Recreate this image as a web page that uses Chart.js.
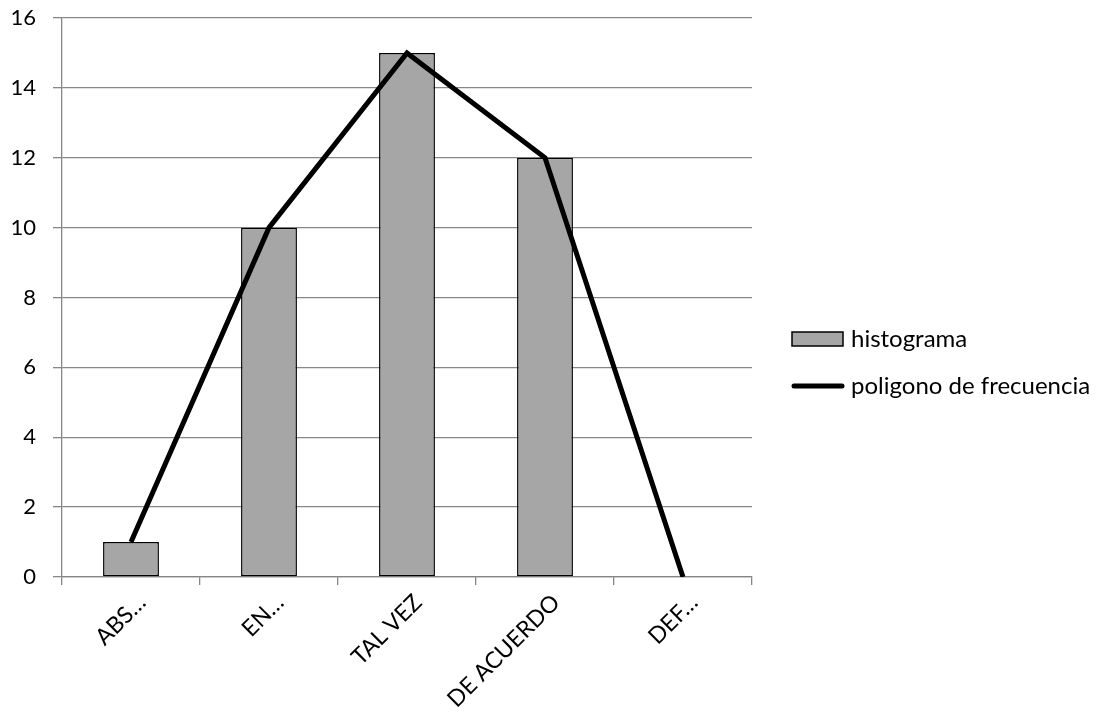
<!DOCTYPE html>
<html>
<head>
<meta charset="utf-8">
<script src="https://cdn.jsdelivr.net/npm/chart.js@4/dist/chart.umd.min.js"></script>
<style>
  html, body { margin: 0; padding: 0; background: #fff; }
  #wrap { width: 1104px; height: 713px; }
</style>
</head>
<body>
<div id="wrap"><canvas id="c" width="1104" height="713"></canvas></div>
<script>
// Response categories and frequencies
const categories = ['ABS…', 'EN…', 'TAL VEZ', 'DE ACUERDO', 'DEF…'];
const histogramValues = [1, 10, 15, 12, 0];
const polygonValues = [1, 10, 15, 12, 0];
const yTicks = [0, 2, 4, 6, 8, 10, 12, 14, 16];

const FONT = 'Lato, "Open Sans", sans-serif';
const GRID = '#878787';
const BAR_FILL = '#a6a6a6';

// Legend drawn to the right of the plot area
const sideLegend = {
  id: 'sideLegend',
  afterDraw(chart) {
    const ctx = chart.ctx;
    const ds = chart.data.datasets;
    const x0 = chart.chartArea.right + 40;
    const boxW = 51;
    ctx.save();
    ctx.font = '24px ' + FONT;
    ctx.fillStyle = '#000';
    ctx.textBaseline = 'middle';
    ctx.textAlign = 'left';
    // bar entry
    const yBar = 339;
    ctx.fillStyle = BAR_FILL;
    ctx.fillRect(x0, yBar - 7, boxW, 14);
    ctx.strokeStyle = '#000';
    ctx.lineWidth = 1.5;
    ctx.strokeRect(x0, yBar - 7, boxW, 14);
    ctx.fillStyle = '#000';
    ctx.fillText(ds[1].label, x0 + boxW + 8, yBar);
    // line entry
    const yLine = 386;
    ctx.beginPath();
    ctx.lineCap = 'round';
    ctx.lineWidth = 5;
    ctx.moveTo(x0 + 2, yLine);
    ctx.lineTo(x0 + boxW - 1, yLine);
    ctx.stroke();
    ctx.fillText(ds[0].label, x0 + boxW + 8, yLine);
    ctx.restore();
  }
};

new Chart(document.getElementById('c'), {
  type: 'bar',
  data: {
    labels: categories,
    datasets: [
      {
        type: 'line',
        label: 'poligono de frecuencia',
        data: polygonValues,
        borderColor: '#000',
        borderWidth: 5,
        pointRadius: 0,
        tension: 0,
        fill: false,
        order: 0
      },
      {
        type: 'bar',
        label: 'histograma',
        data: histogramValues,
        backgroundColor: BAR_FILL,
        borderColor: '#000',
        borderWidth: (c) => (c.raw === 0 ? 0 : 1.5),
        borderSkipped: false,
        categoryPercentage: 1,
        barPercentage: 0.405,
        order: 1
      }
    ]
  },
  options: {
    responsive: false,
    animation: false,
    layout: { padding: { top: 18, right: 352, left: 0, bottom: 0 } },
    plugins: {
      legend: { display: false },
      tooltip: { enabled: false }
    },
    scales: {
      x: {
        offset: true,
        grid: {
          offset: true,
          drawOnChartArea: false,
          drawTicks: true,
          tickLength: 8,
          color: GRID,
          lineWidth: 1.3
        },
        border: { display: true, color: GRID, width: 1.3 },
        ticks: {
          minRotation: 45,
          maxRotation: 45,
          autoSkip: false,
          padding: 4,
          labelOffset: 11,
          color: '#000',
          font: { family: FONT, size: 23 }
        },
        afterFit(scale) { scale.height = 136; }
      },
      y: {
        min: 0,
        max: 16,
        afterBuildTicks(scale) { scale.ticks = yTicks.map(v => ({ value: v })); },
        grid: {
          color: GRID,
          lineWidth: 1.3,
          drawTicks: true,
          tickLength: 9
        },
        border: { display: true, color: GRID, width: 1.3 },
        ticks: {
          padding: 17,
          color: '#000',
          font: { family: FONT, size: 22 }
        },
        afterFit(scale) {
          scale.width = 62;
          scale.paddingTop = 0;
          scale.paddingBottom = 0;
        }
      }
    }
  },
  plugins: [sideLegend]
});
</script>
</body>
</html>
